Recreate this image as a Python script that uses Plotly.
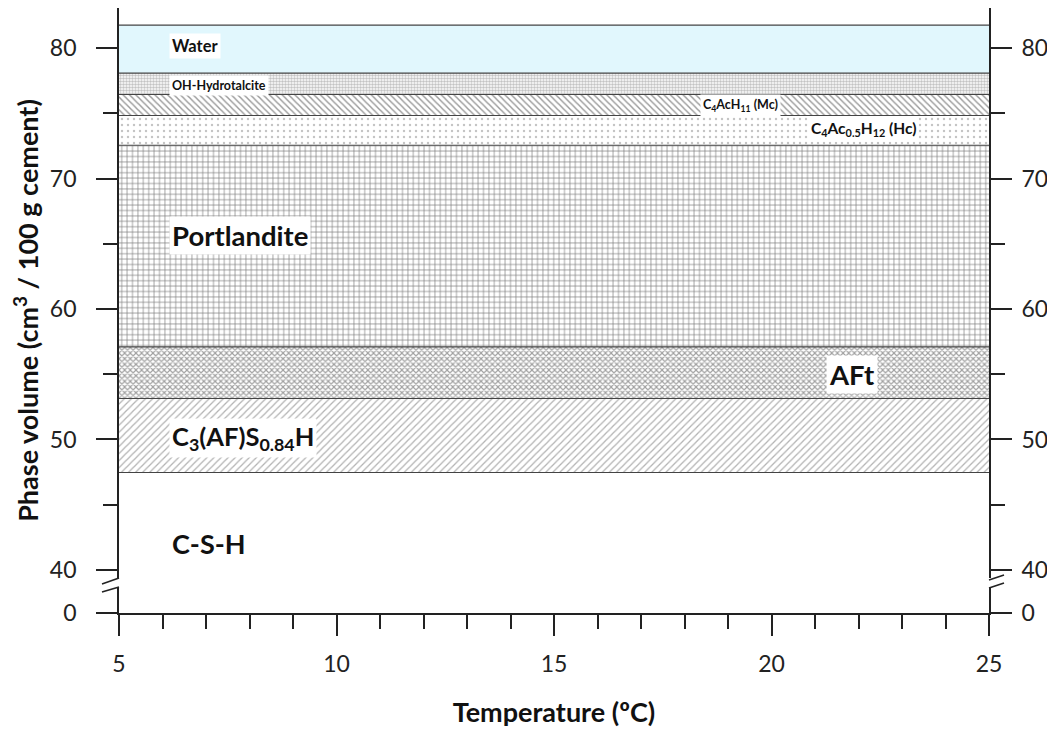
import plotly.graph_objects as go

# ---------------- data ----------------
temperature = [5, 25]
phase_names = ["C-S-H", "C3(AF)S0.84H", "AFt", "Portlandite",
               "C4Ac0.5H12 (Hc)", "C4AcH11 (Mc)", "OH-Hydrotalcite", "Water"]
# phase volumes (cm3 / 100 g cement), read at 5 and 25 degC
vol_csh = [47.47, 47.47]
vol_c3afs = [5.67, 5.67]
vol_aft = [3.95, 3.95]
vol_portlandite = [15.46, 15.46]
vol_hc = [2.28, 2.28]
vol_mc = [1.61, 1.61]
vol_hydrotalcite = [1.64, 1.64]
vol_water = [3.68, 3.68]

x_ticks = [5, 10, 15, 20, 25]
y_ticks = [40, 50, 60, 70, 80]
y_minor = [45, 55, 65, 75]

# broken axis: the bottom of the visible range stands for 0
Y_LOW = 36.7
Y_HIGH = 83.07

series = [vol_csh, vol_c3afs, vol_aft, vol_portlandite, vol_hc, vol_mc,
          vol_hydrotalcite, vol_water]

styles = [
    dict(fillcolor="white"),
    dict(fillpattern=dict(shape="/", size=5, solidity=0.25, fgcolor="#666", bgcolor="white")),
    dict(fillpattern=dict(shape="x", size=4, solidity=0.5, fgcolor="#444", bgcolor="white")),
    dict(fillpattern=dict(shape="+", size=5.4, solidity=0.24, fgcolor="#000", bgcolor="white")),
    dict(fillpattern=dict(shape=".", size=6, solidity=0.12, fgcolor="#888", bgcolor="white")),
    dict(fillpattern=dict(shape="\\", size=4.5, solidity=0.32, fgcolor="#333", bgcolor="white")),
    dict(fillpattern=dict(shape=".", size=3, solidity=0.55, fgcolor="#888", bgcolor="white")),
    dict(fillcolor="#E1F7FD"),
]

fig = go.Figure()
for name, vals, st in zip(phase_names, series, styles):
    fig.add_trace(go.Scatter(
        x=temperature, y=vals, name=name, mode="lines", stackgroup="phases",
        line=dict(color="#444", width=1.2), showlegend=False, hoverinfo="skip",
        **st))

total = [sum(v[i] for v in series) for i in range(len(temperature))]
fig.add_trace(go.Scatter(x=temperature, y=total, yaxis="y2", mode="lines",
                         line=dict(width=0), showlegend=False, hoverinfo="skip"))

FONT = "Lato"
tickfont = dict(family=FONT, size=23, color="#222")

yaxis_common = dict(
    range=[Y_LOW, Y_HIGH], tickmode="array",
    tickvals=[Y_LOW] + y_ticks, ticktext=["0"] + [str(v) for v in y_ticks],
    ticks="outside", ticklen=21, tickwidth=1.6, tickcolor="#222",
    showline=True, linewidth=1.8, linecolor="#222", automargin=False,
    showgrid=False, zeroline=False, tickfont=tickfont,
    minor=dict(tickmode="array", tickvals=y_minor, ticks="outside", ticklen=14,
               tickwidth=1.6, tickcolor="#222", showgrid=False),
)

fig.update_layout(
    width=1047, height=722,
    margin=dict(l=111, r=66, t=0, b=117),
    paper_bgcolor="white", plot_bgcolor="white",
    xaxis=dict(
        range=[5, 25], tickmode="array", tickvals=x_ticks,
        ticks="outside", ticklen=21, tickwidth=1.6, tickcolor="#222",
        showline=True, linewidth=1.8, linecolor="#222", mirror=True, automargin=False,
        showgrid=False, zeroline=False, tickfont=tickfont, ticklabelstandoff=8,
        minor=dict(dtick=1, tick0=5, ticks="outside", ticklen=14, tickwidth=1.6,
                   tickcolor="#222", showgrid=False),
        title=dict(text="<b>Temperature (ºC)</b>", font=dict(family=FONT, size=27, color="#111"),
                   standoff=28),
    ),
    yaxis=dict(**yaxis_common, side="left", ticklabelstandoff=15,
               title=dict(text="<b>Phase volume (cm<sup>3</sup> / 100 g cement)</b>",
                          font=dict(family=FONT, size=27, color="#111"), standoff=18)),
    yaxis2=dict(**yaxis_common, side="right", overlaying="y", anchor="x",
                ticklabelstandoff=5),
)

# axis-break marks (decoration), positions as page pixels of the plot frame
def px_x(p):
    return (p - 119) / 870.0

def px_y(p):
    return (612 - p) / 605.0

shapes = []
for xa in (px_x(119), px_x(989)):
    shapes.append(dict(type="rect", xref="paper", yref="paper",
                       x0=xa - 0.004, x1=xa + 0.004, y0=px_y(586.5), y1=px_y(577),
                       fillcolor="white", line=dict(width=0), layer="above"))
for (x0, y0, x1, y1) in [(102, 583, 119, 577), (102, 591, 119, 586),
                         (989, 579, 1004, 574), (989, 587, 1004, 582)]:
    shapes.append(dict(type="line", xref="paper", yref="paper",
                       x0=px_x(x0), y0=px_y(y0), x1=px_x(x1), y1=px_y(y1),
                       line=dict(color="#222", width=1.6), layer="above"))
fig.update_layout(shapes=shapes)

# phase labels
labels = [
    ("Water", 6.15, 80.15, 16.5),
    ("OH-Hydrotalcite", 6.15, 77.16, 12.5),
    ("C<sub>4</sub>AcH<sub>11</sub> (Mc)", 18.35, 75.63, 12.5),
    ("C<sub>4</sub>Ac<sub>0.5</sub>H<sub>12</sub> (Hc)", 20.83, 73.79, 15.5),
    ("Portlandite", 6.15, 65.6, 27.5),
    ("AFt", 21.25, 55.0, 27.5),
    ("C<sub>3</sub>(AF)S<sub>0.84</sub>H", 6.15, 50.08, 25.5),
    ("C-S-H", 6.15, 42.0, 27),
]
for text, xv, yv, fs in labels:
    fig.add_annotation(x=xv, y=yv, text="<b>" + text + "</b>", showarrow=False,
                       xanchor="left", yanchor="middle", bgcolor="white",
                       borderpad=2, font=dict(family=FONT, size=fs, color="#111"))

fig.write_html("out.html")
